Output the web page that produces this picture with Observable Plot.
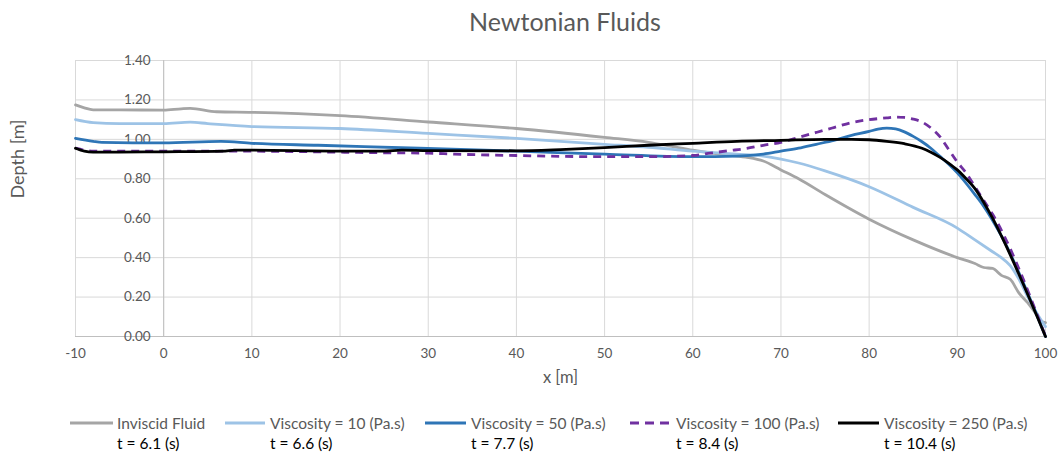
<!DOCTYPE html>
<html><head><meta charset="utf-8">
<script src="https://cdn.jsdelivr.net/npm/d3@7"></script>
<script src="https://cdn.jsdelivr.net/npm/@observablehq/plot@0.6"></script>
<style>
body{margin:0;background:#fff;font-family:Lato,"Open Sans",sans-serif;}
#wrap{position:relative;width:1061px;height:452px;overflow:hidden;background:#fff}
#title{position:absolute;left:75px;width:980px;top:6px;text-align:center;font-size:25px;line-height:30px;color:#595959;}
#chart{position:absolute;left:0;top:40px;}
.leg{position:absolute;font-size:15.5px;line-height:20px;white-space:nowrap}
.leg .a{color:#595959}
.leg .b{color:#000}
.sw{position:absolute}
</style></head>
<body><div id="wrap">
<div id="title">Newtonian Fluids</div>
<div id="chart"></div>
<div id="legend"></div>
</div>
<script>
// ---- data ----
const xTicks = [-10, 0, 10, 20, 30, 40, 50, 60, 70, 80, 90, 100];
const yTicks = [0, 0.2, 0.4, 0.6, 0.8, 1.0, 1.2, 1.4];
const yTickLabels = ["0.00", "0.20", "0.40", "0.60", "0.80", "1.00", "1.20", "1.40"];

const seriesNames = ["Inviscid Fluid", "Viscosity = 10 (Pa.s)", "Viscosity = 50 (Pa.s)", "Viscosity = 100 (Pa.s)", "Viscosity = 250 (Pa.s)"];
const seriesTimes = ["t = 6.1 (s)", "t = 6.6 (s)", "t = 7.7 (s)", "t = 8.4 (s)", "t = 10.4 (s)"];

const xInviscid = [-10, -9, -8, -5, 0, 2, 3, 6, 10, 20, 30, 40, 50, 55, 57, 60, 63, 66, 68, 70, 72, 75, 80, 85, 90, 92, 93, 94, 95, 96, 97, 98, 99, 99.5, 100];
const yInviscid = [1.175, 1.16, 1.15, 1.15, 1.148, 1.155, 1.157, 1.14, 1.137, 1.12, 1.088, 1.055, 1.01, 0.985, 0.97, 0.945, 0.925, 0.91, 0.89, 0.845, 0.80, 0.72, 0.595, 0.49, 0.40, 0.37, 0.35, 0.345, 0.31, 0.29, 0.22, 0.17, 0.11, 0.08, 0.07];

const xVisc10 = [-10, -8, -5, 0, 3, 5, 10, 20, 30, 40, 50, 55, 60, 65, 68, 70, 72, 75, 80, 85, 90, 92, 94, 95, 96, 97, 98, 99, 100];
const yVisc10 = [1.10, 1.085, 1.08, 1.08, 1.087, 1.08, 1.065, 1.055, 1.03, 1.005, 0.975, 0.96, 0.94, 0.925, 0.915, 0.90, 0.88, 0.84, 0.76, 0.655, 0.55, 0.49, 0.43, 0.40, 0.36, 0.29, 0.20, 0.12, 0.05];

const xVisc50 = [-10, -8, -7, 0, 6.5, 10, 17.5, 29, 40, 50, 60, 65, 68, 70, 72, 74, 76, 78, 80, 81, 82, 83, 84, 85, 86, 87, 88, 89, 90, 92, 93, 95, 100];
const yVisc50 = [1.005, 0.99, 0.985, 0.982, 0.99, 0.98, 0.97, 0.955, 0.94, 0.925, 0.912, 0.915, 0.925, 0.94, 0.955, 0.975, 0.995, 1.02, 1.04, 1.052, 1.057, 1.053, 1.038, 1.015, 0.988, 0.955, 0.915, 0.875, 0.83, 0.72, 0.66, 0.51, 0.0];

const xVisc100 = [-10, -8, 0, 10, 20, 25, 30, 33, 40, 50, 55, 60, 62, 64, 66, 68, 70, 72, 74, 76, 78, 80, 82, 83, 84, 85, 86, 87, 88, 89, 90, 91, 92, 93, 94, 100];
const yVisc100 = [0.955, 0.94, 0.94, 0.94, 0.935, 0.932, 0.93, 0.925, 0.918, 0.912, 0.912, 0.918, 0.93, 0.942, 0.953, 0.97, 0.985, 1.01, 1.035, 1.06, 1.085, 1.10, 1.109, 1.113, 1.111, 1.103, 1.088, 1.058, 1.015, 0.95, 0.885, 0.83, 0.76, 0.69, 0.62, 0.0];

const xVisc250 = [-10, -9, -8, 0, 7, 8, 10, 20, 25, 27, 30, 40, 45, 50, 55, 60, 65, 70, 75, 78, 80, 82, 84, 86, 87, 88, 89, 90, 91, 92, 93, 94, 95, 100];
const yVisc250 = [0.955, 0.94, 0.935, 0.937, 0.94, 0.945, 0.945, 0.94, 0.94, 0.945, 0.943, 0.942, 0.948, 0.958, 0.97, 0.98, 0.99, 0.995, 1.0, 1.0, 0.998, 0.99, 0.978, 0.955, 0.935, 0.91, 0.88, 0.845, 0.80, 0.75, 0.68, 0.60, 0.51, 0.0];

// ---- styles ----
const colors = ["#A5A5A5", "#9DC3E6", "#2E75B6", "#7030A0", "#000000"];
const dashes = [null, null, null, "8,6", null];
const seriesX = [xInviscid, xVisc10, xVisc50, xVisc100, xVisc250];
const seriesY = [yInviscid, yVisc10, yVisc50, yVisc100, yVisc250];

const lineMarks = seriesX.map((xs, k) => Plot.line(
  xs.map((x, i) => ({x, y: seriesY[k][i]})),
  {x: "x", y: "y", stroke: colors[k], strokeWidth: 2.8, strokeDasharray: dashes[k] || undefined,
   curve: "monotone-x", strokeLinejoin: "round", strokeLinecap: k === 3 ? "butt" : "round"}
));

const chart = Plot.plot({
  width: 1061, height: 360,
  marginLeft: 75, marginRight: 16, marginTop: 20, marginBottom: 64,
  x: {domain: [-10, 100], axis: null},
  y: {domain: [0, 1.4], axis: null},
  style: {fontFamily: "Lato, 'Open Sans', sans-serif", background: "transparent", overflow: "visible"},
  marks: [
    Plot.ruleX(xTicks, {x: d => d, stroke: "#D9D9D9", strokeWidth: 1}),
    Plot.ruleY(yTicks, {y: d => d, stroke: "#D9D9D9", strokeWidth: 1}),
    Plot.ruleX([0], {x: d => d, stroke: "#BFBFBF", strokeWidth: 1}),
    Plot.ruleY([0], {y: d => d, stroke: "#BFBFBF", strokeWidth: 1}),
    Plot.text(yTicks, {x: () => 0, y: d => d, text: (d, i) => yTickLabels[i], textAnchor: "end", dx: -13, fill: "#595959", fontSize: 13.5}),
    Plot.text(xTicks, {x: d => d, y: () => 0, text: d => String(d), dy: 17, fill: "#595959", fontSize: 13.5}),
    Plot.text(["x [m]"], {frameAnchor: "bottom", text: d => d, dy: 46, fill: "#595959", fontSize: 16.5}),
    Plot.text(["Depth [m]"], {frameAnchor: "left", text: d => d, rotate: -90, dx: -57, fill: "#595959", fontSize: 18}),
    ...lineMarks
  ]
});
document.getElementById("chart").appendChild(chart);

// ---- legend ----
const legPos = [
  {l1: 70, l2: 113, t: 117},
  {l1: 225, l2: 265, t: 270},
  {l1: 425, l2: 466, t: 471},
  {l1: 630, l2: 671, t: 676},
  {l1: 838, l2: 879, t: 884}
];
seriesNames.forEach((name, k) => {
  const p = legPos[k];
  const sw = document.createElementNS("http://www.w3.org/2000/svg", "svg");
  sw.setAttribute("class", "sw");
  sw.setAttribute("width", p.l2 - p.l1);
  sw.setAttribute("height", 6);
  sw.style.left = p.l1 + "px";
  sw.style.top = "420px";
  const ln = document.createElementNS("http://www.w3.org/2000/svg", "line");
  ln.setAttribute("x1", 0); ln.setAttribute("x2", p.l2 - p.l1);
  ln.setAttribute("y1", 3); ln.setAttribute("y2", 3);
  ln.setAttribute("stroke", colors[k]);
  ln.setAttribute("stroke-width", 2.8);
  if (dashes[k]) ln.setAttribute("stroke-dasharray", "9,6");
  sw.appendChild(ln);
  document.getElementById("wrap").appendChild(sw);
  const div = document.createElement("div");
  div.className = "leg";
  div.style.left = p.t + "px";
  div.style.top = "413px";
  div.innerHTML = `<div class="a">${name}</div><div class="b">${seriesTimes[k]}</div>`;
  document.getElementById("wrap").appendChild(div);
});
</script>
</body></html>
